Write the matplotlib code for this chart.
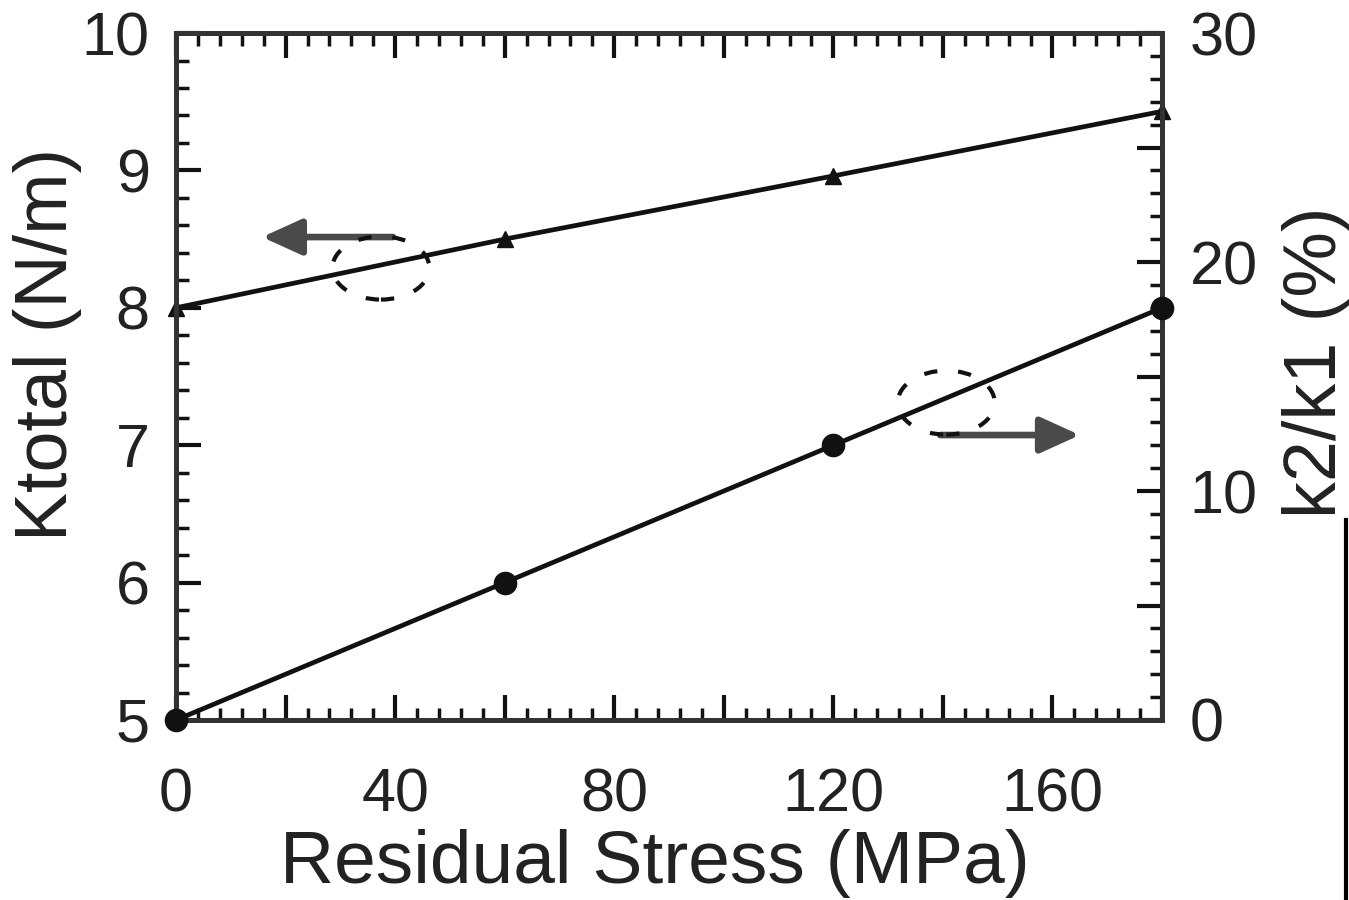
import matplotlib
matplotlib.use("Agg")
import matplotlib.pyplot as plt
from matplotlib.patches import Ellipse
from matplotlib.lines import Line2D
from matplotlib.ticker import MultipleLocator, FuncFormatter

# data
stress = [0, 60, 120, 180]            # MPa
k_total = [8.0, 8.5, 8.96, 9.43]      # N/m, left axis (triangles)
k_ratio = [0, 6, 12, 18]              # %, right axis (circles)

INK = "#111111"
SPINE = "#333333"
TXT = "#222222"

plt.rcParams.update({
    "font.family": ["Liberation Sans", "DejaVu Sans"],
    "font.size": 44,
})

fig = plt.figure(figsize=(13.49, 9.0), dpi=100)
ax = fig.add_axes([0.1305, 0.2, 0.7309, 0.7633])
ax2 = ax.twinx()

ax.plot(stress, k_total, color=INK, lw=3.4, marker="^", ms=11, clip_on=False, zorder=3)
ax2.plot(stress, k_ratio, color=INK, lw=3.4, marker="o", ms=16, clip_on=False, zorder=3)

ax.set_xlim(0, 180)
ax.set_ylim(5, 10)
ax2.set_ylim(0, 30)

every = lambda step: FuncFormatter(lambda v, _: f"{v:.0f}" if round(v) % step == 0 else "")
ax.xaxis.set_major_locator(MultipleLocator(20))
ax.xaxis.set_minor_locator(MultipleLocator(4))
ax.xaxis.set_major_formatter(every(40))
ax.yaxis.set_major_locator(MultipleLocator(1))
ax.yaxis.set_minor_locator(MultipleLocator(0.2))
ax2.yaxis.set_major_locator(MultipleLocator(5))
ax2.yaxis.set_minor_locator(MultipleLocator(1))
ax2.yaxis.set_major_formatter(every(10))

ax.tick_params(axis="x", which="both", direction="in", top=True, bottom=True,
               colors=INK, labelcolor=TXT)
ax.tick_params(axis="x", which="major", length=18, width=3, pad=34, labelsize=44)
ax.tick_params(axis="x", which="minor", length=9, width=2.5)
ax.tick_params(axis="y", which="both", direction="in", left=True, right=False,
               colors=INK, labelcolor=TXT)
ax.tick_params(axis="y", which="major", length=18, width=3, pad=19, labelsize=44)
ax.tick_params(axis="y", which="minor", length=9, width=2.5)
ax2.tick_params(axis="y", which="both", direction="in", right=True, left=False,
                colors=INK, labelcolor=TXT)
ax2.tick_params(axis="y", which="major", length=18, width=3, pad=20, labelsize=44)
ax2.tick_params(axis="y", which="minor", length=9, width=2.5)

for a in (ax, ax2):
    for sp in a.spines.values():
        sp.set_linewidth(3.5)
        sp.set_color(SPINE)

ax.set_xlabel("Residual Stress (MPa)", fontsize=54, color=TXT)
ax.xaxis.label.set_va("top")
ax.xaxis.set_label_coords(0.486, -0.158)
ax.set_ylabel("Ktotal (N/m)", fontsize=53, color=TXT)
ax.yaxis.label.set_va("center")
ax.yaxis.set_label_coords(-0.130, 0.546)
ax2.set_ylabel("k2/k1 (%)", fontsize=53, color=TXT)
ax2.yaxis.label.set_va("center")
ax2.yaxis.set_label_coords(1.157, 0.521)

# dashed ellipses marking which curve belongs to which axis
for cx, cy, h in ((37.4, 8.29, 0.46), (140.6, 7.31, 0.466)):
    ax.add_patch(Ellipse((cx, cy), width=17.7, height=h, fill=False,
                         ec=INK, lw=3, ls=(0, (3.2, 5.0)), zorder=4))

arrow_kw = dict(arrowstyle="-|>,head_length=1.1,head_width=0.5", lw=4.8,
                color="#4a4a4a", shrinkA=0, shrinkB=0, mutation_scale=22)
ax.annotate("", xy=(15.7, 8.515), xytext=(39.6, 8.515), arrowprops=arrow_kw)
ax.annotate("", xy=(165.0, 7.074), xytext=(139.5, 7.074), arrowprops=arrow_kw)

# stray vertical rule at the right edge of the scanned figure
fig.add_artist(Line2D([0.9975, 0.9975], [0.0, 0.422], color="black", lw=3))

fig.savefig("out.png", dpi=100)
